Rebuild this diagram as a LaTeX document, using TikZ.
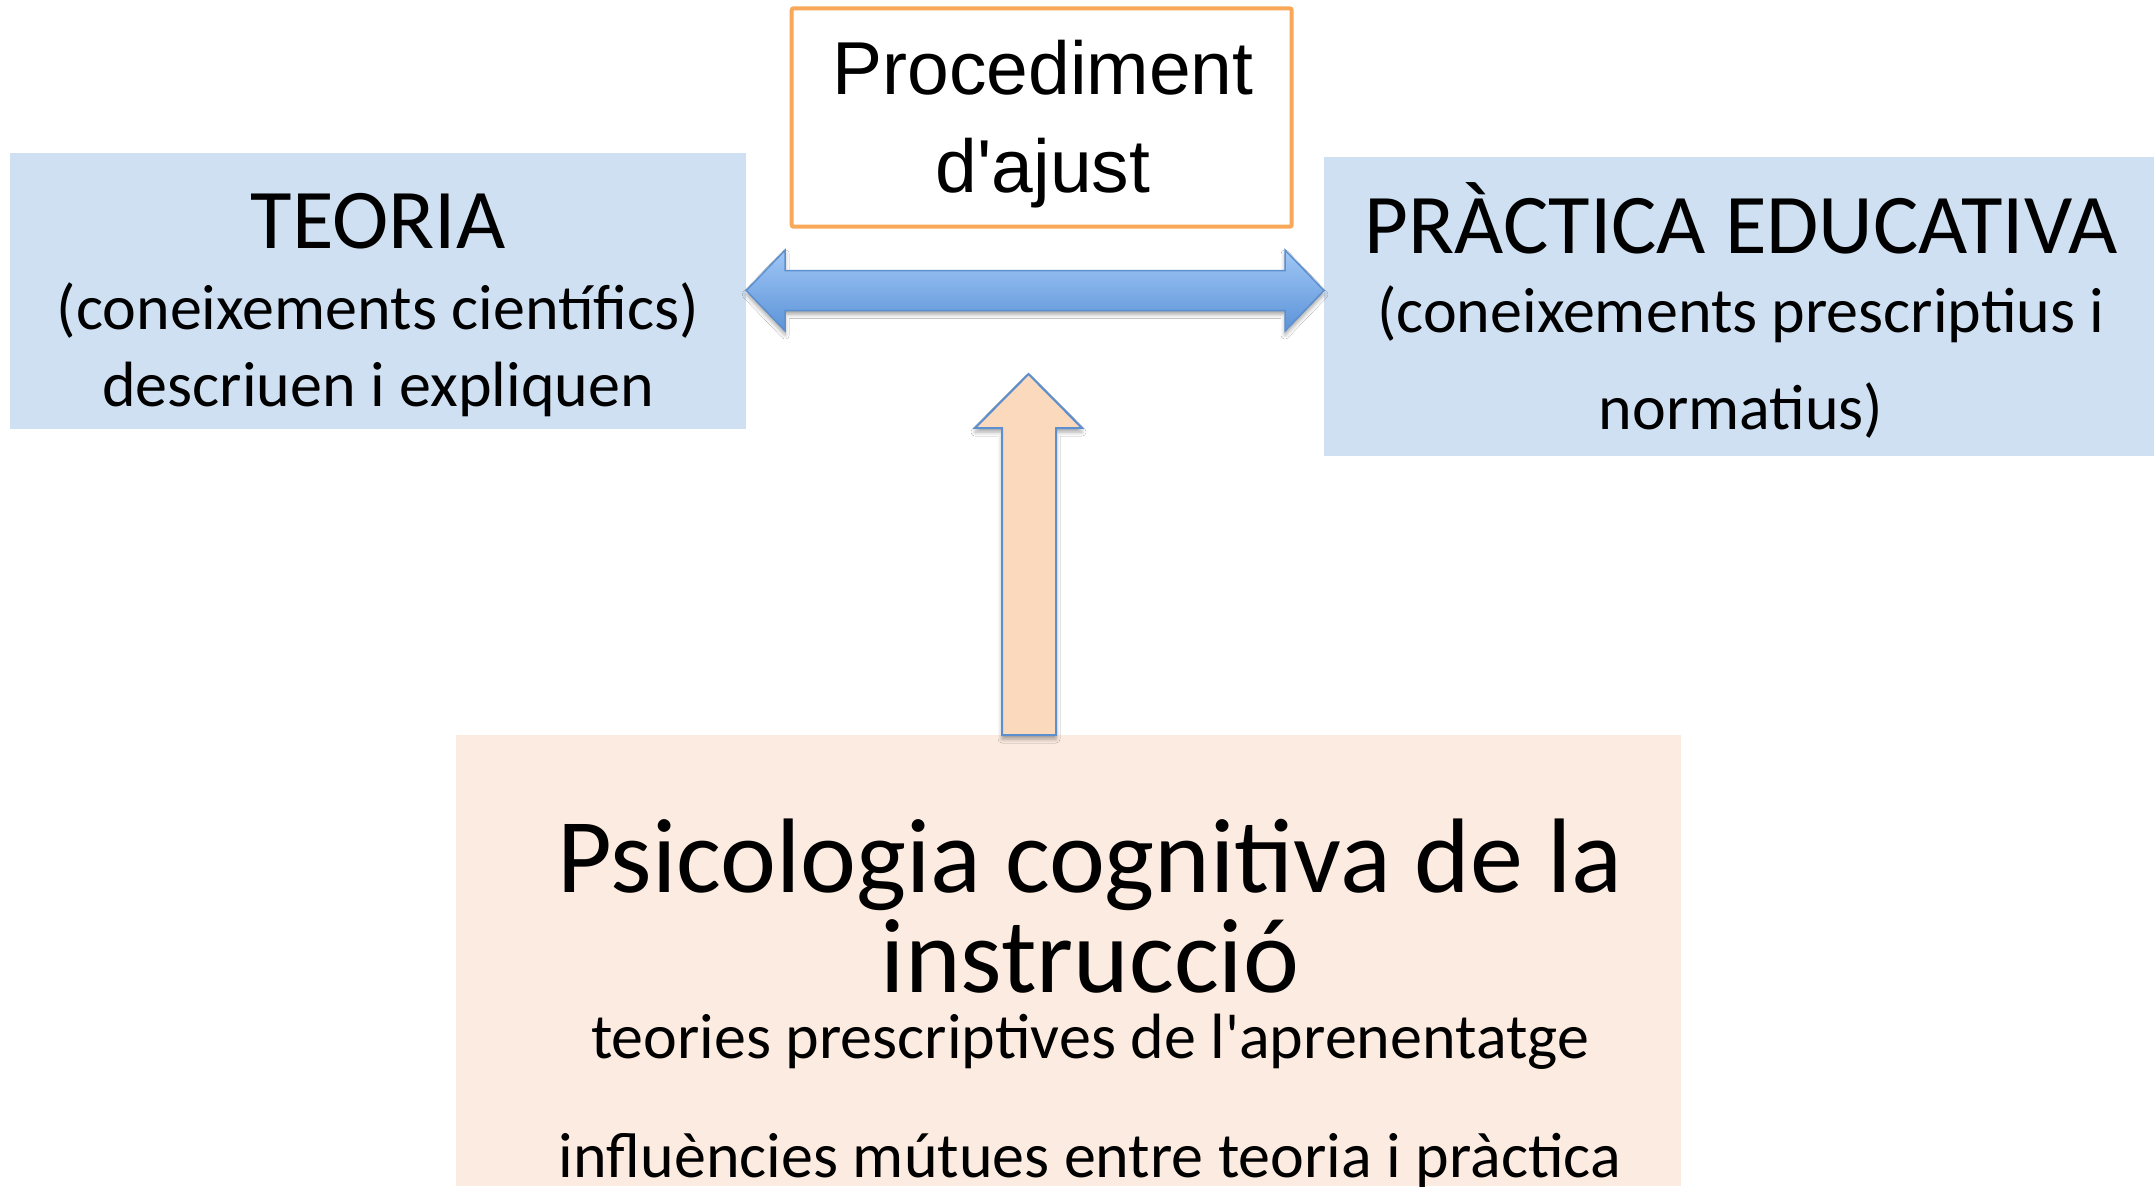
\documentclass[tikz,border=0pt]{standalone}
\usepackage{fontspec}
\setmainfont[Ligatures=TeXOff]{Carlito}
\newfontfamily\arialf[Ligatures=TeXOff]{Liberation Sans}
\usetikzlibrary{calc,shadows.blur}
\definecolor{boxblue}{RGB}{207,224,242}
\definecolor{peach}{RGB}{252,235,224}
\definecolor{orangeline}{RGB}{248,168,88}
\definecolor{uparrowfill}{RGB}{250,217,189}
\definecolor{arrowline}{RGB}{92,143,205}
\definecolor{dblTop}{RGB}{160,199,246}
\definecolor{dblBot}{RGB}{92,147,216}
\tikzset{
  panel/.style={inner sep=0pt, outer sep=0pt},
  txt/.style={anchor=base, inner sep=0pt, outer sep=0pt, text=black},
  big/.style={font=\fontsize{85}{85}\selectfont},
  mid/.style={font=\fontsize{64}{64}\selectfont},
  huge/.style={font=\fontsize{106}{106}\selectfont},
  arialtxt/.style={font=\arialf\fontsize{75}{75}\selectfont},
  arrowshadow/.style={blur shadow={shadow xshift=0pt, shadow yshift=-4pt, shadow blur radius=4pt, shadow opacity=35}}
}
\begin{document}
\begin{tikzpicture}[x=1pt,y=-1pt]
\useasboundingbox[fill=white] (0,0) rectangle (2154,1186);
% boxes
\node[panel, fill=boxblue, minimum width=736.4pt, minimum height=276pt] (teoria) at (378,290.5) {};
\node[panel, fill=boxblue, minimum width=830pt, minimum height=299pt] (practica) at (1739,306.5) {};
\node[panel, fill=peach, minimum width=1225pt, minimum height=451pt] (psico) at (1068.5,960.5) {};
\node[panel, draw=orangeline, line width=4pt, rounded corners=2pt, fill=white, minimum width=500pt, minimum height=218.4pt] (proc) at (1041.7,117.5) {};
% double arrow between TEORIA and PRACTICA
\coordinate (tipL) at (teoria.east);
\coordinate (tipR) at (teoria.east -| practica.west);
\path[arrowshadow, draw=arrowline, line width=1.5pt, top color=dblTop, bottom color=dblBot, line join=miter]
  (tipL) -- ($(tipL)+(39,-40.5)$) -- ($(tipL)+(39,-20)$) -- ($(tipR)+(-39,-20)$) -- ($(tipR)+(-39,-40.5)$)
  -- (tipR) -- ($(tipR)+(-39,40.5)$) -- ($(tipR)+(-39,20)$) -- ($(tipL)+(39,20)$) -- ($(tipL)+(39,40.5)$) -- cycle;
% up arrow from psico box
\coordinate (upBase) at (1029,735);
\path[arrowshadow, draw=arrowline, line width=2pt, fill=uparrowfill, line join=miter]
  ($(upBase)+(-27,0)$) -- ($(upBase)+(-27,-307)$) -- ($(upBase)+(-54,-307)$) -- ($(upBase)+(-0.5,-361)$)
  -- ($(upBase)+(53,-307)$) -- ($(upBase)+(27,-307)$) -- ($(upBase)+(27,0)$) -- cycle;
% texts
\node[txt, big] (teoriaA) at (378,248.6) {TEORIA};
\node[txt, mid] (teoriaB) at (378,329) {(coneixements científics)};
\node[txt, mid] (teoriaC) at (378,406) {descriuen i expliquen};
\node[txt, big] (pracA) at (1741,253) {PRÀCTICA EDUCATIVA};
\node[txt, mid] (pracB) at (1741,332) {(coneixements prescriptius i};
\node[txt, mid] (pracC) at (1741,429) {normatius)};
\node[txt, arialtxt] (procA) at (1043,94) {Procediment};
\node[txt, arialtxt] (procB) at (1043,192) {d'ajust};
\node[txt, huge] (psicoA) at (1090,892) {Psicologia cognitiva de la};
\node[txt, huge] (psicoB) at (1090,992) {instrucció};
\node[txt, mid] (psicoC) at (1090,1058) {teories prescriptives de l'aprenentatge};
\node[txt, mid] (psicoD) at (1090,1177) {influències mútues entre teoria i pràctica};
\end{tikzpicture}
\end{document}
